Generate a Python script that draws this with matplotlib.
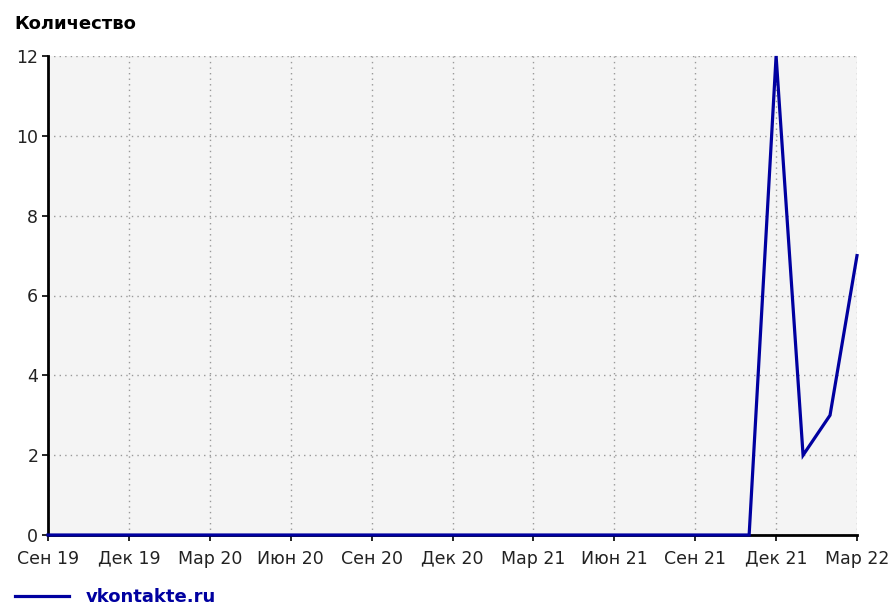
import matplotlib
matplotlib.use("Agg")
import matplotlib.pyplot as plt

plt.rcParams['font.family'] = ['DejaVu Sans']

months = [
    "2019-09", "2019-10", "2019-11", "2019-12", "2020-01", "2020-02", "2020-03",
    "2020-04", "2020-05", "2020-06", "2020-07", "2020-08", "2020-09", "2020-10",
    "2020-11", "2020-12", "2021-01", "2021-02", "2021-03", "2021-04", "2021-05",
    "2021-06", "2021-07", "2021-08", "2021-09", "2021-10", "2021-11", "2021-12",
    "2022-01", "2022-02", "2022-03",
]
counts = [0] * 26 + [0, 12, 2, 3, 7]
series_name = "vkontakte.ru"
tick_labels = ["Сен 19", "Дек 19", "Мар 20", "Июн 20", "Сен 20", "Дек 20",
               "Мар 21", "Июн 21", "Сен 21", "Дек 21", "Мар 22"]
y_ticks = [0, 2, 4, 6, 8, 10, 12]

x = list(range(len(months)))

fig = plt.figure(figsize=(8.92, 6.06), dpi=100)
ax = fig.add_axes([48/892, 1-535/606, (857-48)/892, (535-56)/606])
ax.set_facecolor('#f4f4f4')

line, = ax.plot(x, counts, color='#0000a0', lw=2.3, clip_on=False, zorder=5,
                solid_joinstyle='miter')

ax.set_xlim(0, len(months) - 1)
ax.set_ylim(0, 12)
ax.set_xticks(x[::3])
ax.set_xticklabels(tick_labels)
ax.set_yticks(y_ticks)
ax.grid(True, color='#999999', linestyle=(0, (1, 3)), linewidth=1.0)
ax.set_axisbelow(True)

for s in ['top', 'right']:
    ax.spines[s].set_visible(False)
for s in ['left', 'bottom']:
    ax.spines[s].set_linewidth(2)
    ax.spines[s].set_color('black')
ax.tick_params(axis='both', length=4.5, width=1.2, color='black',
               labelsize=12.5, labelcolor='#222222')
ax.tick_params(axis='x', pad=6)
ax.tick_params(axis='y', pad=2.5)

fig.text(14/892, 1-24/606, "Количество", fontsize=13, fontweight='bold',
         va='center', ha='left', color='black')

leg = fig.legend([line], [series_name], loc='center left',
                 bbox_to_anchor=(15/892, 1-597/606), frameon=False,
                 borderpad=0, borderaxespad=0,
                 handlelength=3.0, handletextpad=0.9, fontsize=13)
for t in leg.get_texts():
    t.set_color('#0000a0')
    t.set_fontweight('bold')

fig.savefig('out.png', dpi=100)
